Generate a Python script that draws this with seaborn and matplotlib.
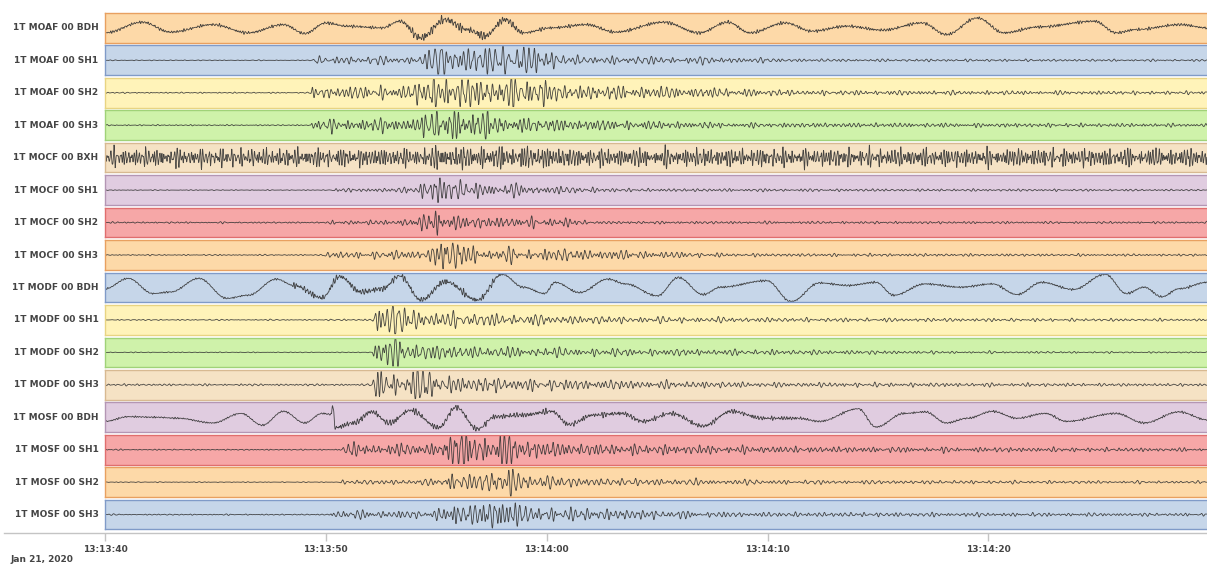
import numpy as np
import pandas as pd
import matplotlib
matplotlib.use("Agg")
import matplotlib.pyplot as plt
import seaborn as sns

# ==============================================================================
# DATA (seconds after 13:13:40)
# ==============================================================================
LABELS = [
    "1T MOAF 00 BDH", "1T MOAF 00 SH1", "1T MOAF 00 SH2", "1T MOAF 00 SH3",
    "1T MOCF 00 BXH", "1T MOCF 00 SH1", "1T MOCF 00 SH2", "1T MOCF 00 SH3",
    "1T MODF 00 BDH", "1T MODF 00 SH1", "1T MODF 00 SH2", "1T MODF 00 SH3",
    "1T MOSF 00 BDH", "1T MOSF 00 SH1", "1T MOSF 00 SH2", "1T MOSF 00 SH3",
]
FACE_COLORS = ["#fdd9a8", "#c6d6e9", "#fff3b9", "#cff2aa", "#f5e2c4", "#e0cce0", "#f6a7a7"]
EDGE_COLORS = ["#e8a060", "#809bc8", "#e8d482", "#a0d278", "#d7b991", "#b496b4", "#e06e6e"]

TICK_SECONDS = [0, 10, 20, 30, 40]
TICK_LABELS = ["13:13:40", "13:13:50", "13:14:00", "13:14:10", "13:14:20"]
DATE_LABEL = "Jan 21, 2020"
T_END = 49.9

# high-frequency amplitude envelopes (fraction of half panel height)
moaf_bdh_t = [0, 13.3, 14.0, 18.5, 19.0, 50]
moaf_bdh_a = [0.07, 0.07, 0.22, 0.18, 0.08, 0.07]
moaf_sh1_t = [0, 9.4, 9.5, 14.0, 14.6, 15.2, 15.6, 16.4, 18.0, 20.2, 20.6, 26.9, 32, 50]
moaf_sh1_a = [0.02, 0.02, 0.2, 0.2, 0.5, 0.9, 0.6, 0.75, 0.75, 0.7, 0.22, 0.18, 0.07, 0.05]
moaf_sh2_t = [0, 9.3, 9.4, 13.8, 14.8, 16.0, 17.5, 19.7, 20.3, 25.3, 31.7, 50]
moaf_sh2_a = [0.03, 0.03, 0.3, 0.35, 0.95, 0.75, 0.7, 0.85, 0.4, 0.3, 0.12, 0.08]
moaf_sh3_t = [0, 9.3, 9.4, 13.8, 15.4, 17.5, 18.0, 20.5, 28.5, 50]
moaf_sh3_a = [0.03, 0.03, 0.28, 0.35, 0.85, 0.65, 0.4, 0.3, 0.12, 0.08]
mocf_bxh_t = [0, 14, 15, 20, 21, 50]
mocf_bxh_a = [0.45, 0.45, 0.55, 0.55, 0.45, 0.45]
mocf_sh1_t = [0, 10.1, 10.2, 13.6, 14.3, 14.8, 15.8, 17.0, 20.2, 23.7, 46.4, 50]
mocf_sh1_a = [0.02, 0.02, 0.08, 0.12, 0.4, 0.9, 0.45, 0.4, 0.2, 0.08, 0.05, 0.04]
mocf_sh2_t = [0, 10.1, 10.2, 13.2, 14.5, 15.0, 15.8, 17.0, 21.0, 22.0, 50]
mocf_sh2_a = [0.04, 0.04, 0.1, 0.12, 0.35, 0.9, 0.35, 0.28, 0.22, 0.07, 0.05]
mocf_sh3_t = [0, 9.8, 9.9, 12.0, 14.7, 15.0, 16.2, 17.0, 20.8, 28.5, 50]
mocf_sh3_a = [0.03, 0.03, 0.15, 0.18, 0.25, 0.95, 0.6, 0.35, 0.3, 0.08, 0.05]
modf_bdh_t = [0, 8.4, 8.6, 17.7, 18.0, 50]
modf_bdh_a = [0.04, 0.04, 0.15, 0.15, 0.05, 0.05]
modf_sh1_t = [0, 9.5, 12.1, 12.3, 13.5, 14.0, 16.4, 22.8, 31.7, 50]
modf_sh1_a = [0.03, 0.03, 0.05, 0.9, 0.8, 0.5, 0.35, 0.18, 0.1, 0.06]
modf_sh2_t = [0, 12.1, 12.3, 13.3, 14.0, 16.4, 22.1, 38.7, 50]
modf_sh2_a = [0.02, 0.02, 0.9, 0.75, 0.45, 0.3, 0.2, 0.06, 0.03]
modf_sh3_t = [0, 12.1, 12.3, 13.5, 14.6, 15.2, 19.0, 30.1, 50]
modf_sh3_a = [0.05, 0.05, 0.95, 0.6, 0.95, 0.45, 0.3, 0.12, 0.06]
mosf_bdh_t = [0, 10.2, 10.3, 31, 32, 50]
mosf_bdh_a = [0.04, 0.04, 0.15, 0.1, 0.05, 0.05]
mosf_sh1_t = [0, 10.6, 10.7, 15.0, 15.7, 17.0, 18.2, 18.8, 21.5, 31.7, 50]
mosf_sh1_a = [0.03, 0.03, 0.3, 0.3, 0.95, 0.75, 0.9, 0.5, 0.3, 0.15, 0.08]
mosf_sh2_t = [0, 10.6, 10.7, 15.0, 15.4, 16.4, 17.4, 18.3, 18.9, 22.1, 31.7, 50]
mosf_sh2_a = [0.02, 0.02, 0.1, 0.15, 0.75, 0.35, 0.5, 0.9, 0.4, 0.2, 0.1, 0.06]
mosf_sh3_t = [0, 10.2, 10.3, 14.9, 15.9, 16.6, 17.5, 18.2, 19.0, 22.1, 28.5, 50]
mosf_sh3_a = [0.03, 0.03, 0.22, 0.18, 0.85, 0.35, 0.95, 0.9, 0.4, 0.3, 0.12, 0.07]

# low-frequency drift of the broadband (BDH) channels: turning points
moaf_drift_t = [0, 1.69, 2.97, 4.88, 6.48, 8.08, 9.04, 10.0, 10.95, 12.55, 13.35, 14.3, 15.4,
                16.4, 17.2, 18.1, 18.94, 20.2, 21.8, 23.1, 25.3, 26.9, 28.2, 29.2, 30.8, 32.0,
                33.6, 35.2, 37.0, 38.1, 39.5, 40.7, 42.3, 44.8, 45.8, 46.7, 48.7, 49.9]
moaf_drift_v = [-0.35, 0.4, -0.3, 0.23, -0.35, 0.23, -0.4, 0.35, 0.12, 0.0, 0.47, -0.7, 0.58,
                -0.12, -0.58, 0.58, -0.35, 0.0, 0.23, -0.3, 0.4, -0.35, 0.4, -0.35, 0.35, -0.23,
                0.12, -0.16, 0.35, -0.47, 0.7, -0.35, 0.07, 0.47, -0.35, -0.12, 0.23, 0.0]
modf_drift_t = [0, 1.05, 2.17, 2.97, 4.25, 5.52, 6.48, 7.76, 8.56, 9.83, 10.63, 11.59, 12.55,
                13.35, 14.31, 15.42, 16.86, 17.98, 18.94, 19.9, 20.38, 21.49, 22.77, 23.57,
                25.01, 25.96, 27.08, 27.88, 29.96, 31.07, 32.35, 33.63, 34.91, 35.71, 37.14,
                38.74, 40.18, 41.3, 42.41, 43.85, 45.29, 46.25, 47.05, 47.85, 48.64, 49.9]
modf_drift_v = [-0.09, 0.64, -0.43, -0.32, 0.64, -0.77, -0.55, 0.59, 0.14, -0.73, 0.77, -0.32,
                -0.09, 0.82, -0.89, 0.41, -0.89, 0.93, 0.02, -0.43, 0.36, -0.36, 0.59, 0.25,
                -0.59, 0.7, -0.5, 0.02, 0.48, -1.0, 0.32, 0.14, 0.36, -0.55, 0.25, 0.02, 0.25,
                -0.5, 0.36, -0.14, 0.93, -0.43, 0.02, -0.66, -0.09, 0.36]
mosf_drift_t = [0, 1.05, 2.33, 3.29, 4.88, 6.16, 7.12, 8.08, 9.04, 9.83, 10.25, 10.31, 10.42,
                11.27, 12.07, 12.87, 13.83, 15.11, 15.9, 16.86, 17.66, 18.94, 20.22, 21.01,
                22.13, 23.41, 24.37, 25.64, 27.08, 28.36, 29.8, 31.39, 32.35, 34.11, 34.91,
                36.18, 37.14, 38.1, 39.06, 40.18, 41.3, 42.57, 43.53, 45.77, 47.05, 48.64, 49.9]
mosf_drift_v = [-0.29, 0.04, 0.0, -0.07, -0.4, 0.27, -0.56, 0.42, -0.4, 0.27, 0.2, 0.93, -0.73,
                -0.4, 0.38, -0.4, 0.49, -0.73, 0.71, -0.84, 0.04, 0.16, 0.42, -0.51, 0.16, 0.27,
                -0.29, 0.27, -0.62, 0.42, -0.07, -0.07, -0.29, 0.6, -0.69, 0.27, 0.38, -0.4,
                -0.07, 0.42, -0.07, 0.27, -0.29, 0.27, -0.4, 0.38, -0.18]

# dominant period of each channel (s)
PERIODS = [0.12, 0.25, 0.22, 0.21, 0.13, 0.23, 0.22, 0.23, 0.12, 0.25, 0.24, 0.23, 0.12, 0.22, 0.25, 0.23]

ENVELOPES = [
    (moaf_bdh_t, moaf_bdh_a), (moaf_sh1_t, moaf_sh1_a), (moaf_sh2_t, moaf_sh2_a), (moaf_sh3_t, moaf_sh3_a),
    (mocf_bxh_t, mocf_bxh_a), (mocf_sh1_t, mocf_sh1_a), (mocf_sh2_t, mocf_sh2_a), (mocf_sh3_t, mocf_sh3_a),
    (modf_bdh_t, modf_bdh_a), (modf_sh1_t, modf_sh1_a), (modf_sh2_t, modf_sh2_a), (modf_sh3_t, modf_sh3_a),
    (mosf_bdh_t, mosf_bdh_a), (mosf_sh1_t, mosf_sh1_a), (mosf_sh2_t, mosf_sh2_a), (mosf_sh3_t, mosf_sh3_a),
]
DRIFTS = {0: (moaf_drift_t, moaf_drift_v), 8: (modf_drift_t, modf_drift_v), 12: (mosf_drift_t, mosf_drift_v)}

# spectral make-up of the wiggle, relative to the dominant period
WIG_RATIO = [1.0, 0.79, 1.23, 0.64, 1.37, 0.89, 0.52, 1.11]
WIG_WEIGHT = [1.0, 0.8, 0.7, 0.6, 0.45, 0.6, 0.4, 0.5]


def ease(tq, kt, kv):
    # smooth (half-cosine) join between the read turning points
    kt = np.asarray(kt, float)
    kv = np.asarray(kv, float)
    idx = np.clip(np.searchsorted(kt, tq, side="right") - 1, 0, len(kt) - 2)
    t0, t1 = kt[idx], kt[idx + 1]
    u = np.clip((tq - t0) / (t1 - t0), 0, 1)
    w = (1 - np.cos(np.pi * u)) / 2
    return kv[idx] + (kv[idx + 1] - kv[idx]) * w


def trace(i, t):
    env_t, env_a = ENVELOPES[i]
    env = np.interp(t, env_t, env_a)
    p = PERIODS[i]
    wiggle = np.zeros_like(t)
    for k, (r, w) in enumerate(zip(WIG_RATIO, WIG_WEIGHT)):
        ph = 1.37 * (i + 1) * (k + 1) + 0.61 * k * k
        wiggle += w * np.sin(2 * np.pi * t / (p * r) + ph)
    y = env * wiggle / 2.1
    if i in DRIFTS:
        y = y + ease(t, *DRIFTS[i])
    return np.clip(y, -0.98, 0.98)


# ==============================================================================
# FIGURE
# ==============================================================================
sns.set_style("white")
plt.rcParams["font.family"] = ["DejaVu Sans"]

W, H = 1207, 565
fig = plt.figure(figsize=(W / 100, H / 100), dpi=100)

t = np.arange(0, T_END, 0.01)
left_px, right_px = 105, 1207
px_per_s = (right_px - left_px) / T_END
top_px, pitch, panel_h = 13, 32.45, 29.7

for i, label in enumerate(LABELS):
    y_top = top_px + i * pitch
    ax = fig.add_axes([left_px / W, 1 - (y_top + panel_h) / H, (right_px - left_px) / W, panel_h / H])
    df = pd.DataFrame({"t": t, "y": trace(i, t)})
    sns.lineplot(data=df, x="t", y="y", ax=ax, color="#333333", linewidth=0.6,
                 estimator=None, sort=False, alpha=0.9)
    ax.set_xlim(0, T_END)
    ax.set_ylim(-1.05, 1.05)
    ax.set_facecolor(FACE_COLORS[i % 7])
    for side, sp in ax.spines.items():
        sp.set_color(EDGE_COLORS[i % 7])
        sp.set_linewidth(1.0)
    ax.spines["right"].set_visible(False)
    ax.set_xticks([])
    ax.set_yticks([])
    ax.set_xlabel("")
    ax.set_ylabel("")
    ax.text(-0.006, 0.5, label, transform=ax.transAxes, ha="right", va="center",
            fontsize=6.5, fontweight="bold", color="#444444")

# time axis, its line runs under the labels too
axis_y = 533
ax_t = fig.add_axes([4 / W, 1 - axis_y / H, (right_px - 4) / W, 0.0001])
ax_t.set_xlim(-(left_px - 4) / px_per_s, T_END)
ax_t.set_yticks([])
for side in ["top", "left", "right"]:
    ax_t.spines[side].set_visible(False)
ax_t.spines["bottom"].set_color("#c4c4c4")
ax_t.spines["bottom"].set_linewidth(1.0)
ax_t.set_xticks(TICK_SECONDS)
ax_t.set_xticklabels(TICK_LABELS, fontsize=6.5, fontweight="bold", color="#444444")
ax_t.tick_params(axis="x", bottom=True, direction="out", length=6, width=1,
                 color="#c4c4c4", pad=3)
ax_t.set_facecolor("none")

fig.text(10 / W, 1 - 559 / H, DATE_LABEL, ha="left", va="center",
         fontsize=6.5, fontweight="bold", color="#444444")

fig.savefig("out.png", dpi=100)
